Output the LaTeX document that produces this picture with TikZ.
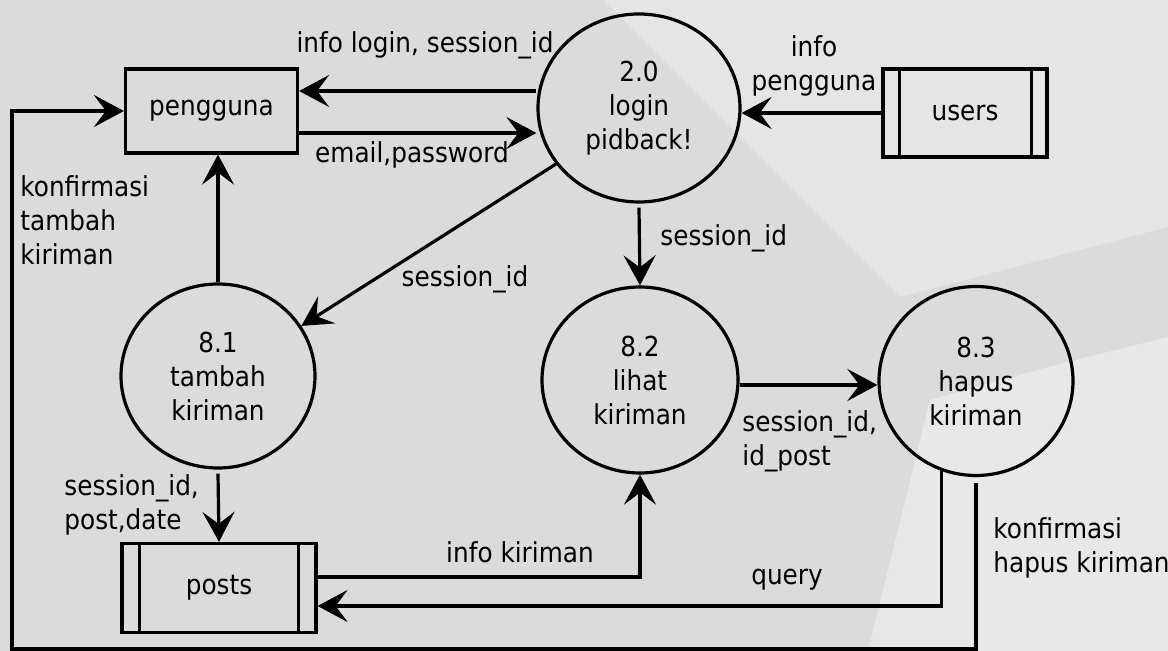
\documentclass[tikz,border=0pt]{standalone}
\usepackage{fontspec}
\setmainfont{DejaVu Sans}[FakeStretch=0.9]
\usetikzlibrary{shapes.geometric,arrows.meta}
\definecolor{bgdark}{RGB}{219,219,219}
\definecolor{bglight}{RGB}{229,229,229}
\definecolor{bglighter}{RGB}{232,232,232}
\tikzset{
  proc/.style={draw, ellipse, line width=1.6pt, inner sep=0pt, align=center,
    minimum width=97pt, minimum height=92pt},
  entity/.style={draw, rectangle, line width=1.6pt, inner sep=0pt},
  store/.style={draw, rectangle, line width=1.6pt, inner sep=0pt},
  arr/.style={line width=1.6pt, -{Stealth[length=15pt,width=16pt,inset=6pt]}},
  lbl/.style={inner sep=0pt, align=center},
  lbll/.style={inner sep=0pt, align=left, anchor=west},
}
\begin{document}
\begin{tikzpicture}[x=0.5pt,y=-0.5pt,
  every node/.append style={font=\fontsize{13.75pt}{17pt}\selectfont}]
\useasboundingbox (0,0) rectangle (1168,651);
% background
\fill[bgdark] (0,0) rectangle (1168,651);
\fill[bglight] (603,0) -- (1168,0) -- (1168,227) -- (900,297) -- cycle;
\fill[bglighter] (930,400) -- (1063,363) -- (1168,337) -- (1168,651) -- (868,651) -- cycle;

% nodes
\node[entity, minimum width=86pt, minimum height=42pt] (pengguna) at (211.5,111) {pengguna};
\node[proc, minimum width=101pt, minimum height=94pt] (login) at (639,108) {2.0\\login\\pidback!};
\node[store, minimum width=82pt, minimum height=44pt] (users) at (965,113) {users};
\node[proc] (tambah) at (218,376) {8.1\\tambah\\kiriman};
\node[proc, minimum width=98pt, minimum height=93pt] (lihat) at (640,380) {8.2\\lihat\\kiriman};
\node[proc, minimum width=97pt, minimum height=94.5pt] (hapus) at (976,381) {8.3\\hapus\\kiriman};
\node[store, minimum width=97pt, minimum height=44.5pt] (posts) at (219,588) {posts};

% store inner lines
\draw[line width=1.6pt] ([xshift=9pt]users.north west) -- ([xshift=9pt]users.south west);
\draw[line width=1.6pt] ([xshift=-8.5pt]users.north east) -- ([xshift=-8.5pt]users.south east);
\draw[line width=1.6pt] ([xshift=9.5pt]posts.north west) -- ([xshift=9.5pt]posts.south west);
\draw[line width=1.6pt] ([xshift=-9.5pt]posts.north east) -- ([xshift=-9.5pt]posts.south east);

% helper coordinates
\coordinate (p1) at ([yshift=10pt]pengguna.east);
\coordinate (p2) at ([yshift=-11pt]pengguna.east);
\coordinate (cb) at (12,649);

% connectors
\draw[arr] (p1 -| login.west) -- (p1);
\draw[arr] (p2) -- (p2 -| login.west);
\draw[arr] (users.west) -- (users.west -| login.east);
\draw[arr] (login.214) -- (tambah.31);
\draw[arr] (tambah.north) -- (tambah.north |- pengguna.south);
\draw[arr] ([yshift=-2pt]login.south) -- (lihat.north);
\draw[arr] ([yshift=-2pt]tambah.south) -- (posts.north);
\draw[arr] ([yshift=5.5pt]posts.east) -| (lihat.south);
\draw[arr] ([yshift=-2.5pt]lihat.east) -- ([yshift=-2pt]hapus.west);
\draw[arr] (hapus.249) |- ([yshift=-9pt]posts.east);
\draw[arr] ([yshift=-3pt]hapus.south) |- (cb) |- (pengguna.west);

% labels
\node[lbl] (l1) at (425,45) {info login, session\_id};
\node[lbl] (l2) at (412,155) {email,password};
\node[lbl] (l3) at (814,66) {info\\pengguna};
\node[lbl] (l4) at (465,279) {session\_id};
\node[lbll] (l5) at (660,238) {session\_id};
\node[lbll] (l6) at (20,220) {konfirmasi\\tambah\\kiriman};
\node[lbll] (l7) at (64,505) {session\_id,\\post,date};
\node[lbl] (l8) at (520,552) {info kiriman};
\node[lbll] (l9) at (742,441) {session\_id,\\id\_post};
\node[lbl] (l10) at (787,580) {query};
\node[lbll] (l11) at (993,548) {konfirmasi\\hapus kiriman};
\end{tikzpicture}
\end{document}
